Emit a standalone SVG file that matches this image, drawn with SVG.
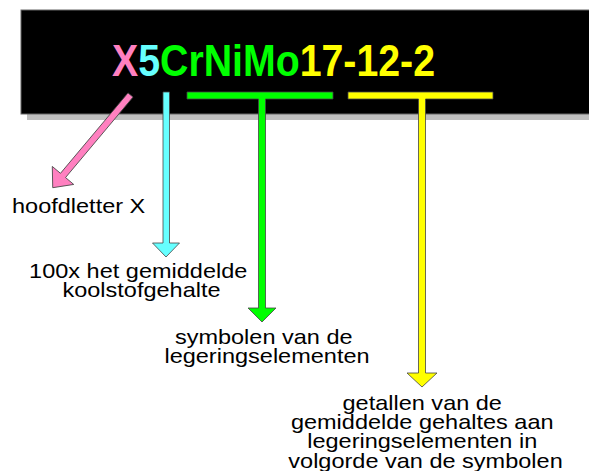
<svg xmlns="http://www.w3.org/2000/svg" width="589" height="471" viewBox="0 0 589 471">
  <style>
    .label { font-family: "Liberation Sans", Arial, sans-serif; font-size: 21px; fill: #000; }
    .code { font-family: "Liberation Sans", Arial, sans-serif; font-size: 45px; font-weight: bold; }
    .conn { stroke: #444; stroke-width: 0.8; stroke-linejoin: miter; }
  </style>
  <rect width="589" height="471" fill="#ffffff"/>

  <!-- banner with the steel grade designation -->
  <g id="banner">
    <rect x="27" y="16" width="570" height="104" fill="#c0c0c0"/>
    <rect x="21" y="10" width="570" height="104" fill="#000000" stroke="#666" stroke-width="1"/>
    <text class="code" x="112" y="76" textLength="323" lengthAdjust="spacingAndGlyphs"><tspan fill="#ff80c0">X</tspan><tspan fill="#66ffff">5</tspan><tspan fill="#00ff00">CrNiMo</tspan><tspan fill="#ffff00">17-12-2</tspan></text>
  </g>

  <!-- connectors: bars and arrows from each part of the code to its explanation -->
  <g id="connectors" class="conn">
    <polygon id="arrow-x" fill="#ff80c0" transform="translate(130.5 95) rotate(40)"
             points="-3.3,0 3.3,0 3.3,105 14,105 0,121 -14,105 -3.3,105"/>
    <polygon id="arrow-5" fill="#66ffff"
             points="163,92 169.5,92 169.5,243 179.5,243 166,257 152.5,243 163,243"/>
    <polygon id="arrow-elements" fill="#00ff00"
             points="187,92 333,92 333,99 265.5,99 265.5,308 276,308 262,322 248,308 258.5,308 258.5,99 187,99"/>
    <polygon id="arrow-numbers" fill="#ffff00"
             points="348,92 493,92 493,99 425.5,99 425.5,373 437,373 422,387 407,373 418.5,373 418.5,99 348,99"/>
  </g>

  <!-- explanations -->
  <g id="label-x">
    <text class="label" transform="translate(12 213) scale(1.12 1)">hoofdletter X</text>
  </g>
  <g id="label-carbon">
    <text class="label" text-anchor="middle" transform="translate(141.5 278) scale(1.12 1)">
      <tspan x="0" y="0">100x het gemiddelde</tspan>
      <tspan x="0" y="19.5">koolstofgehalte</tspan>
    </text>
  </g>
  <g id="label-elements">
    <text class="label" text-anchor="middle" transform="translate(267 343.5) scale(1.12 1)">
      <tspan x="0" y="0">symbolen van de</tspan>
      <tspan x="0" y="19.5">legeringselementen</tspan>
    </text>
  </g>
  <g id="label-numbers">
    <text class="label" text-anchor="middle" transform="translate(425.5 409.5) scale(1.12 1)">
      <tspan x="0" y="0">getallen van de</tspan>
      <tspan x="0" y="19.5">gemiddelde gehaltes aan</tspan>
      <tspan x="0" y="39">legeringselementen in</tspan>
      <tspan x="0" y="58.5">volgorde van de symbolen</tspan>
    </text>
  </g>
</svg>
